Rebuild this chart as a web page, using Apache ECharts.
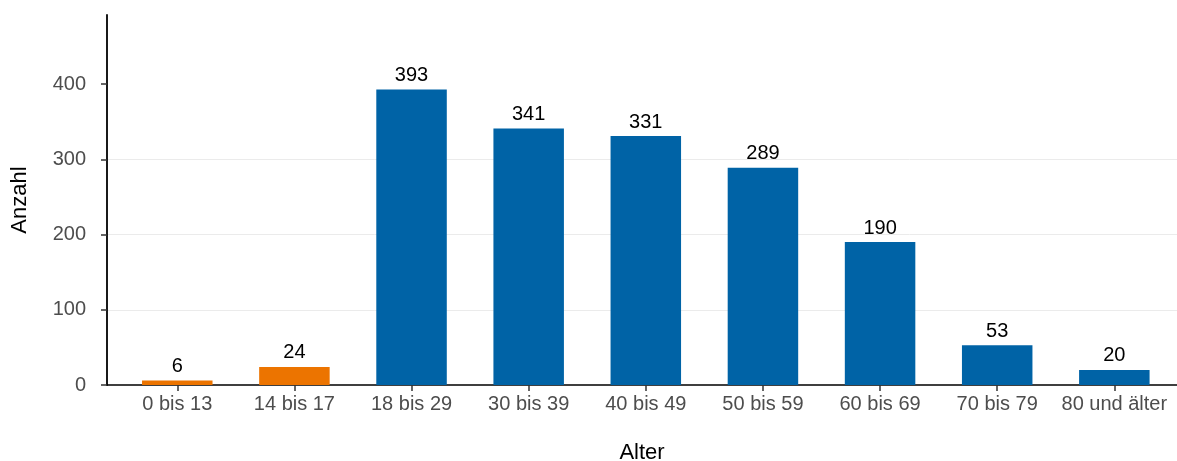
<!DOCTYPE html>
<html>
<head>
<meta charset="utf-8">
<script src="https://cdn.jsdelivr.net/npm/echarts@6/dist/echarts.min.js"></script>
<style>
html,body{margin:0;padding:0;background:#fff;overflow:hidden;}
#chart{width:1177px;height:461px;}
</style>
</head>
<body>
<div id="chart"></div>
<script>
const categories = ['0 bis 13','14 bis 17','18 bis 29','30 bis 39','40 bis 49','50 bis 59','60 bis 69','70 bis 79','80 und älter'];
const counts = [6, 24, 393, 341, 331, 289, 190, 53, 20];
const highlighted = ['0 bis 13','14 bis 17'];
const yTicks = [0, 100, 200, 300, 400];
const yName = 'Anzahl';
const xName = 'Alter';

const BLUE = '#0063a6', ORANGE = '#ec7400';
const FONT = '"Liberation Sans", Arial, sans-serif';

const chart = echarts.init(document.getElementById('chart'), null, { width: 1177, height: 461 });
const catIdx = categories.map((c, i) => i);
chart.setOption({
  animation: false,
  backgroundColor: '#ffffff',
  grid: { left: 107, right: 0, top: 15, bottom: 76, containLabel: false, outerBoundsMode: 'none' },
  xAxis: {
    type: 'value',
    min: -0.6,
    max: 8.535,
    name: xName,
    nameLocation: 'middle',
    nameGap: 57,
    nameTextStyle: { color: '#000', fontSize: 22, fontFamily: FONT },
    axisLine: { show: true, onZero: false, lineStyle: { color: '#000', width: 1.6 } },
    axisTick: { show: true, length: 6, customValues: catIdx, lineStyle: { color: '#333', width: 1.5 } },
    axisLabel: {
      customValues: catIdx,
      formatter: v => categories[Math.round(v)] ?? '',
      color: '#4d4d4d', fontSize: 20, fontFamily: FONT, margin: 9
    },
    splitLine: { show: false }
  },
  yAxis: {
    type: 'value',
    min: 0,
    max: 492,
    interval: 100,
    name: yName,
    nameLocation: 'middle',
    nameRotate: 90,
    nameGap: 76,
    nameTextStyle: { color: '#000', fontSize: 22, fontFamily: FONT },
    axisLine: { show: true, onZero: false, lineStyle: { color: '#000', width: 1.8 } },
    axisTick: { show: true, length: 6, customValues: yTicks, lineStyle: { color: '#333', width: 1.5 } },
    axisLabel: { customValues: yTicks, color: '#4d4d4d', fontSize: 20, fontFamily: FONT, margin: 21 },
    splitLine: { show: true, showMinLine: false, showMaxLine: false, lineStyle: { color: '#ebebeb', width: 1 } }
  },
  series: [{
    type: 'bar',
    barWidth: 70.5,
    data: counts.map((v, i) => ({
      value: [i, v],
      itemStyle: { color: highlighted.includes(categories[i]) ? ORANGE : BLUE }
    })),
    label: {
      show: true, position: 'top', distance: 4,
      formatter: p => String(p.value[1]),
      color: '#000', fontSize: 20, fontFamily: FONT
    }
  }]
});
</script>
</body>
</html>
